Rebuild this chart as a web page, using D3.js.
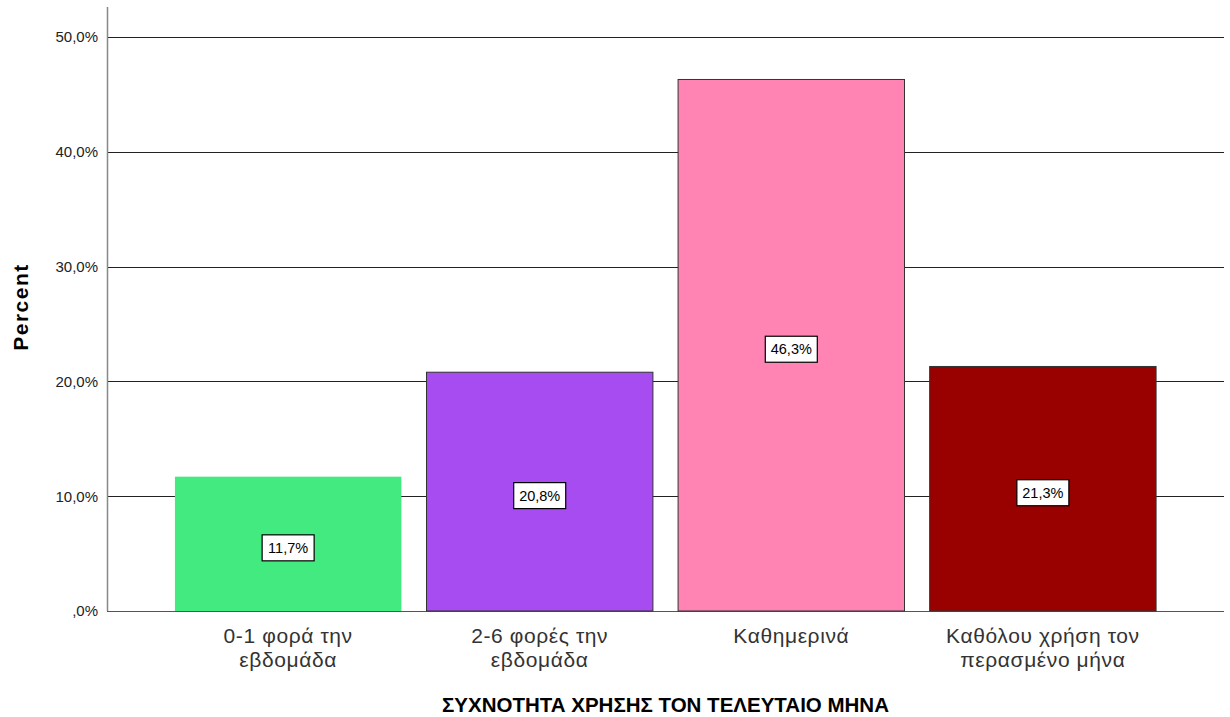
<!DOCTYPE html>
<html>
<head>
<meta charset="utf-8">
<script src="https://cdn.jsdelivr.net/npm/d3@7"></script>
<style>
  body { margin: 0; background: #fff; }
  text { font-family: "Liberation Sans", Arial, sans-serif; }
</style>
</head>
<body>
<div id="chart"></div>
<script>
// data
var categories = [["0-1 φορά την", "εβδομάδα"], ["2-6 φορές την", "εβδομάδα"], ["Καθημερινά"], ["Καθόλου χρήση τον", "περασμένο μήνα"]];
var percents = [11.7, 20.8, 46.3, 21.3];
var barColors = ["#43EA7F", "#A74CF0", "#FF84B3", "#990000"];
var yTicks = [0, 10, 20, 30, 40, 50];

var width = 1230, height = 717;
var margin = {top: 37, right: 6, bottom: 106, left: 107};

var svg = d3.select("#chart").append("svg")
    .attr("width", width)
    .attr("height", height);

var x = d3.scaleBand()
    .domain(d3.range(categories.length))
    .range([margin.left, width - margin.right])
    .paddingInner(0.1)
    .paddingOuter(0.27);

var y = d3.scaleLinear()
    .domain([0, 50])
    .range([height - margin.bottom, margin.top]);

// SPSS style: ",0%" for zero, comma decimal
var fmt = function(v) { return v === 0 ? ",0%" : d3.format(".1f")(v).replace(".", ",") + "%"; };

// gridlines
svg.append("g").selectAll("line")
    .data(yTicks)
  .enter().append("line")
    .attr("x1", margin.left).attr("x2", width - margin.right)
    .attr("y1", function(d) { return Math.round(y(d)) + 0.5; })
    .attr("y2", function(d) { return Math.round(y(d)) + 0.5; })
    .attr("stroke", function(d) { return d === 0 ? "#555" : "#222"; })
    .attr("stroke-width", 1.2);

// y axis
var yAxis = svg.append("g")
    .attr("transform", "translate(" + (margin.left - 1) + ",0)")
    .call(d3.axisLeft(y).tickValues(yTicks).tickSize(0).tickPadding(8).tickFormat(fmt));
yAxis.select(".domain").remove();
yAxis.selectAll("text").attr("font-size", 15).attr("fill", "#222")
    .attr("font-family", "Liberation Sans, Arial, sans-serif");
svg.append("line")
    .attr("x1", margin.left + 0.5).attr("x2", margin.left + 0.5)
    .attr("y1", 7).attr("y2", y(0))
    .attr("stroke", "#888").attr("stroke-width", 1.5);

// bars
svg.append("g").selectAll("rect")
    .data(percents)
  .enter().append("rect")
    .attr("x", function(d, i) { return x(i); })
    .attr("y", function(d) { return y(d); })
    .attr("width", x.bandwidth())
    .attr("height", function(d) { return y(0) - y(d); })
    .attr("fill", function(d, i) { return barColors[i]; })
    .attr("stroke", function(d, i) { return i === 0 ? "none" : "#333"; })
    .attr("stroke-width", 1);

// value labels
var lab = svg.append("g").selectAll("g")
    .data(percents)
  .enter().append("g")
    .attr("transform", function(d, i) {
      return "translate(" + (x(i) + x.bandwidth() / 2) + "," + ((y(d) + y(0)) / 2 + 4) + ")";
    });
lab.append("rect")
    .attr("x", -26).attr("y", -13).attr("width", 52).attr("height", 26)
    .attr("fill", "#fff").attr("stroke", "#000").attr("stroke-width", 1.2);
lab.append("text")
    .attr("text-anchor", "middle").attr("dy", "0.36em")
    .attr("font-size", 14.5).attr("fill", "#000")
    .text(function(d) { return d3.format(".1f")(d).replace(".", ",") + "%"; });

// category labels
var cat = svg.append("g").selectAll("text")
    .data(categories)
  .enter().append("text")
    .attr("x", function(d, i) { return x(i) + x.bandwidth() / 2; })
    .attr("y", 643)
    .attr("text-anchor", "middle")
    .attr("font-size", 21)
    .attr("letter-spacing", 0.6)
    .attr("fill", "#333");
cat.selectAll("tspan")
    .data(function(d) { return d; })
  .enter().append("tspan")
    .attr("x", function() { return d3.select(this.parentNode).attr("x"); })
    .attr("dy", function(d, i) { return i === 0 ? 0 : 24; })
    .text(function(d) { return d; });

// axis titles
svg.append("text")
    .attr("x", (margin.left + width - margin.right) / 2)
    .attr("y", 712)
    .attr("text-anchor", "middle")
    .attr("font-size", 20.5).attr("font-weight", "bold").attr("fill", "#000")
    .text("ΣΥΧΝΟΤΗΤΑ ΧΡΗΣΗΣ ΤΟΝ ΤΕΛΕΥΤΑΙΟ ΜΗΝΑ");

svg.append("text")
    .attr("transform", "translate(28,307) rotate(-90)")
    .attr("text-anchor", "middle")
    .attr("font-size", 21).attr("font-weight", "bold").attr("fill", "#000")
    .attr("letter-spacing", 1.5)
    .text("Percent");
</script>
</body>
</html>
